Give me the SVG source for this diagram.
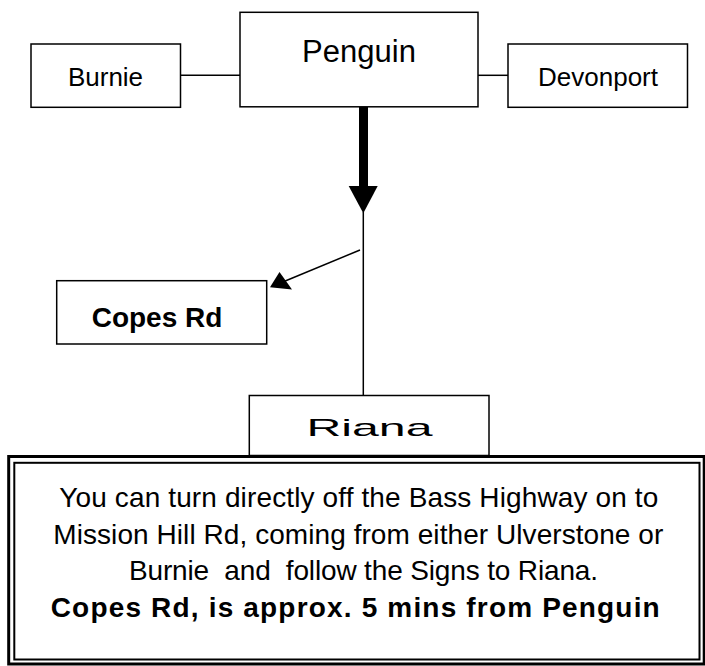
<svg xmlns="http://www.w3.org/2000/svg" width="705" height="666" viewBox="0 0 705 666">
<style>
.box{fill:#fff;stroke:#000;stroke-width:1.5}
.lbl{font-family:"Liberation Sans",Arial,sans-serif;fill:#000;text-anchor:middle}
.txt{font-family:"Liberation Sans",Arial,sans-serif;fill:#000;font-size:28px}
.ln{stroke:#000;stroke-width:1.5;fill:none}
</style>
<rect width="705" height="666" fill="#fff"/>
<g id="connectors">
<line class="ln" x1="180.5" y1="75.3" x2="240" y2="75.3"/>
<line class="ln" x1="478" y1="75.3" x2="508" y2="75.3"/>
<rect x="359" y="107" width="9" height="80" fill="#000"/>
<polygon points="348.7,186 377.7,186 363.3,213.3" fill="#000"/>
<line class="ln" x1="363.3" y1="212" x2="363.3" y2="395.5"/>
<line class="ln" x1="360" y1="250" x2="284" y2="281.5"/>
<polygon points="270,287.3 279.5,272 292,289.5" fill="#000"/>
</g>
<g id="burnie">
<rect class="box" x="31" y="44" width="149.5" height="63.3"/>
<text class="lbl" x="105.5" y="86" font-size="26">Burnie</text>
</g>
<g id="penguin">
<rect class="box" x="240" y="12.3" width="238" height="94.5"/>
<text class="lbl" x="359" y="61.7" font-size="31">Penguin</text>
</g>
<g id="devonport">
<rect class="box" x="508" y="44" width="179.5" height="63.3"/>
<text class="lbl" x="598" y="86" font-size="26">Devonport</text>
</g>
<g id="copes">
<rect class="box" x="56.7" y="280.7" width="210" height="63.3"/>
<text class="lbl" x="157" y="327.3" font-size="28" font-weight="bold">Copes Rd</text>
</g>
<g id="riana">
<rect class="box" x="249.3" y="395.5" width="239.7" height="60"/>
<text class="lbl" x="369.5" y="436" font-size="24" textLength="126" lengthAdjust="spacingAndGlyphs">Riana</text>
</g>
<g id="info">
<rect x="8.7" y="456.5" width="695.5" height="207.5" fill="#fff" stroke="#000" stroke-width="3"/>
<rect x="14.3" y="462.8" width="685.2" height="196.7" fill="#fff" stroke="#000" stroke-width="2"/>
<text class="txt" x="59.3" y="507" textLength="599">You can turn directly off the Bass Highway on to</text>
<text class="txt" x="53.3" y="543.5" textLength="610">Mission Hill Rd, coming from either Ulverstone or</text>
<text class="txt" x="129" y="580" textLength="469" xml:space="preserve">Burnie  and  follow the Signs to Riana.</text>
<text class="txt" x="50.7" y="617" textLength="609" font-weight="bold">Copes Rd, is approx. 5 mins from Penguin</text>
</g>
</svg>
